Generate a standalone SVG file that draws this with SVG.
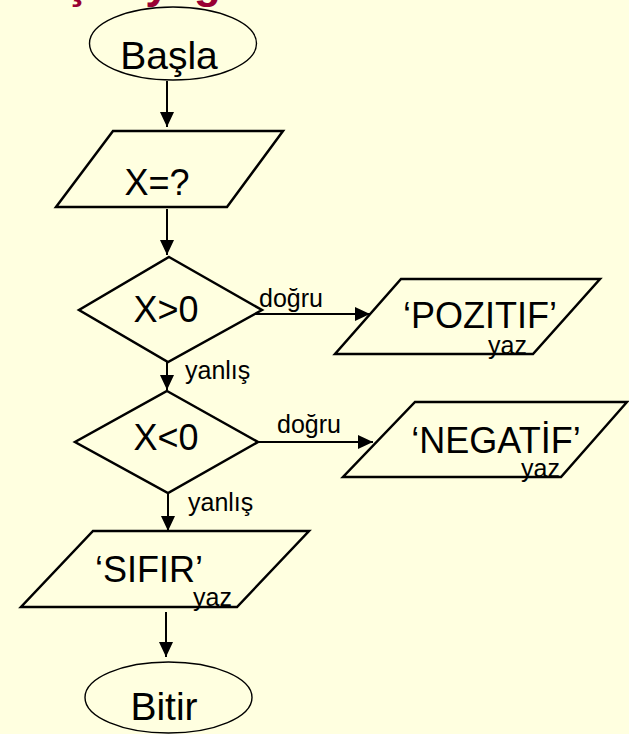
<svg xmlns="http://www.w3.org/2000/svg" width="629" height="734" viewBox="0 0 629 734">
<defs>
<style>
.sh{fill:none;stroke:#000;stroke-width:2.5;stroke-linejoin:miter}
.el{fill:none;stroke:#000;stroke-width:1.4}
.t{font-family:"Liberation Sans",Arial,sans-serif;fill:#000}
.big{font-size:36px;text-anchor:middle}
.term{font-size:39px;text-anchor:middle}
.lb{font-size:25px}
.cn{fill:none;stroke:#000;stroke-width:2;marker-end:url(#ah)}
</style>
<marker id="ah" markerUnits="userSpaceOnUse" markerWidth="16" markerHeight="14" refX="15" refY="7" orient="auto">
<path d="M0,0 L15,7 L0,14 z" fill="#000"/>
</marker>
</defs>
<rect width="629" height="734" fill="#FFFFE0"/>
<text x="-4" y="-2" font-family="'Liberation Sans',Arial,sans-serif" font-weight="bold" font-size="44" fill="#990033">Akış Diyagramı</text>
<g id="connectors">
<line class="cn" x1="167" y1="81" x2="167" y2="127"/>
<line class="cn" x1="167" y1="209" x2="167" y2="255"/>
<line class="cn" x1="255" y1="314" x2="370" y2="314"/>
<line class="cn" x1="167" y1="362" x2="167" y2="390"/>
<line class="cn" x1="258" y1="442" x2="373" y2="442"/>
<line class="cn" x1="168" y1="493" x2="168" y2="531"/>
<line class="cn" x1="166" y1="612" x2="166" y2="657"/>
</g>
<g id="start">
<ellipse class="el" cx="173" cy="43.5" rx="83.5" ry="36.5"/>
<text class="t term" x="169" y="69">Başla</text>
</g>
<g id="input">
<polygon class="sh" points="113,131 283,131 227,207 56,207"/>
<text class="t big" x="157" y="195">X=?</text>
</g>
<g id="dec1">
<polygon class="sh" points="169,257 262,310 168,362 79,310"/>
<text class="t big" x="166" y="322">X&gt;0</text>
<text class="t lb" x="259" y="307">doğru</text>
<text class="t lb" x="185" y="379">yanlış</text>
</g>
<g id="pozitif">
<polygon class="sh" points="401,279 600,279 533,354 335,354"/>
<text class="t big" x="480" y="328">‘POZITIF’</text>
<text class="t lb" x="488" y="354">yaz</text>
</g>
<g id="dec2">
<polygon class="sh" points="167,391 258,442 168,493 75,442"/>
<text class="t big" x="166" y="450">X&lt;0</text>
<text class="t lb" x="277" y="433">doğru</text>
<text class="t lb" x="188" y="511">yanlış</text>
</g>
<g id="negatif">
<polygon class="sh" points="415,402 627,402 561,477 343,477"/>
<text class="t big" x="496" y="453">‘NEGATİF’</text>
<text class="t lb" x="521" y="477">yaz</text>
</g>
<g id="sifir">
<polygon class="sh" points="93,531 309,531 237,607 21,607"/>
<text class="t big" x="149" y="582">‘SIFIR’</text>
<text class="t lb" x="193" y="606">yaz</text>
</g>
<g id="end">
<ellipse class="el" cx="168.5" cy="697.5" rx="83.5" ry="35.5"/>
<text class="t term" x="164" y="720">Bitir</text>
</g>
</svg>
